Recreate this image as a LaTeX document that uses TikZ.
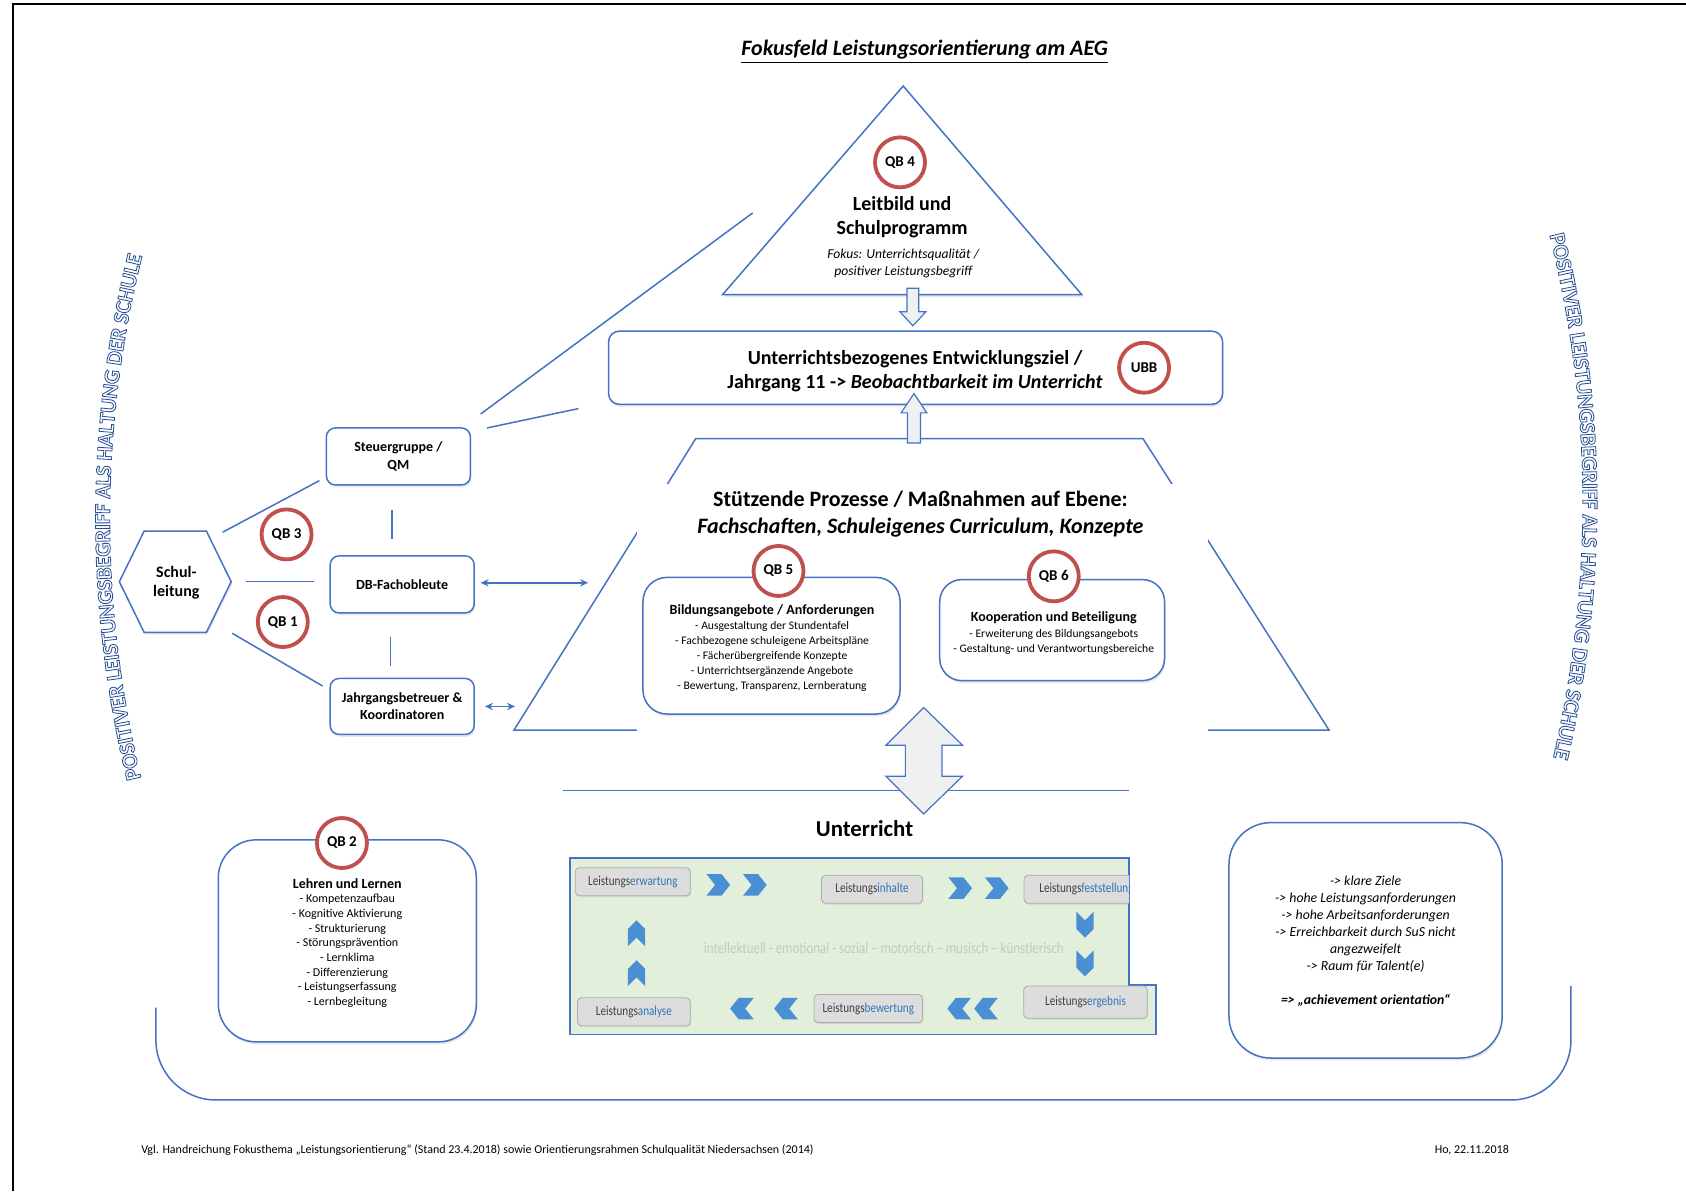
\documentclass[tikz,border=0pt]{standalone}
\usepackage{fontspec}
\usepackage{graphicx}
\setmainfont{Carlito}
\usetikzlibrary{arrows.meta,decorations.text,shadows}

\definecolor{lblue}{RGB}{68,114,196}
\definecolor{qbred}{RGB}{192,80,77}
\definecolor{chevblue}{RGB}{74,143,212}
\definecolor{panelgreen}{RGB}{226,239,218}
\definecolor{boxgray}{RGB}{221,221,221}
\definecolor{sfxblue}{RGB}{46,117,182}
\definecolor{labgray}{RGB}{64,64,64}
\definecolor{fadegray}{RGB}{196,200,196}
\definecolor{arrowfill}{RGB}{240,240,240}
\definecolor{arctext}{RGB}{40,80,150}

\newcommand{\fsz}[2]{\fontsize{#1}{#2}\selectfont}
\newcommand{\tagtext}[2]{\scalebox{0.82}[1]{\textcolor{labgray}{#1}\textcolor{sfxblue}{#2}}}
% outlined capitals for the curved slogan
\newcommand{\outlinefont}{\special{pdf:literal direct 1 Tr 0.42 w}\bfseries\fsz{11}{12}}

\begin{document}
\begin{tikzpicture}[x=0.5376pt,y=-0.5376pt,
  bl/.style={draw=lblue,line width=0.75pt},
  shad/.style={drop shadow={opacity=0.18,shadow xshift=0.5pt,shadow yshift=-1.2pt}},
  orgbox/.style={bl,shad,fill=white,rounded corners=4.5pt,align=center,inner sep=0pt,
    font=\fsz{7}{8.6}\bfseries,minimum width=72pt,minimum height=28.5pt},
  qb/.style={circle,draw=qbred,line width=1.9pt,fill=white,minimum size=25pt,inner sep=0pt,
    font=\fsz{7.5}{8}\bfseries},
  bigbox/.style={bl,shad,fill=white,inner sep=0pt},
  tagbox/.style={draw=gray!65,fill=boxgray,rounded corners=2pt,inner sep=0pt,minimum height=14pt,
    font=\fsz{6.8}{8},drop shadow={opacity=0.15,shadow xshift=0.4pt,shadow yshift=-0.8pt}},
  chevh/.pic={\fill[chevblue] (-11,-10) -- (3,-10) -- (11,0) -- (3,10) -- (-11,10) -- (-3,0) -- cycle;},
  chevv/.pic={\fill[chevblue] (-8,-12) -- (0,-4) -- (8,-12) -- (8,4) -- (0,12) -- (-8,4) -- cycle;},
  blockarrow/.style={draw=lblue,line width=0.6pt,fill=arrowfill},
  conn/.style={bl},
  dbl/.style={bl,{Stealth[length=4pt,width=3.6pt]}-{Stealth[length=4pt,width=3.6pt]}},
]
\useasboundingbox (0,0) rectangle (1568,1108);
\fill[white] (0,0) rectangle (1568,1108);

% page frame
\draw[black,line width=1pt] (12,1108) -- (12,4) -- (1568,4);

% title
\node[font=\fsz{11}{13}\bfseries\itshape] (title) at (860,48)
  {\underline{Fokusfeld Leistungsorientierung am AEG}};

% frame around the lower part
\draw[bl,rounded corners=30pt] (145,937) -- (145,1023) -- (1461,1023) -- (1461,917);

% top triangle: mission statement
\draw[bl,fill=white,shad] (840,80) -- (1006,274) -- (672,274) -- cycle;
\node[qb] (qb4) at (837,151) {QB 4};
\node[font=\fsz{10}{12.4}\bfseries,align=center] (leit) at (839,202) {Leitbild und\\Schulprogramm};
\node[font=\fsz{6.8}{8.1}\itshape,align=center] (fokus) at (840,245)
  {Fokus: Unterrichtsqualität /\\positiver Leistungsbegriff};
\draw[blockarrow] (843.5,268) -- (854.5,268) -- (854.5,290) -- (861,290) -- (849,303)
  -- (837,290) -- (843.5,290) -- cycle;

% development goal
\node[bigbox,rounded corners=5.4pt,minimum width=307pt,minimum height=36.6pt] (ubb) at (851.5,342) {};
\node[font=\fsz{10}{11.8}\bfseries,align=center] (ubbtext) at (851,345)
  {Unterrichtsbezogenes Entwicklungsziel /\\Jahrgang 11 -> \textit{Beobachtbarkeit im Unterricht}};
\node[qb] (ubbc) at (1064,342) {UBB};

% supporting processes (trapezoid)
\draw[bl] (647,408) -- (1063,408) -- (1236,679) -- (478,679) -- cycle;
\fill[white] (592,450) rectangle (1123,692);
\draw[blockarrow] (844,412) -- (856,412) -- (856,384) -- (862,384) -- (850,366) -- (838,384)
  -- (844,384) -- cycle;
\node[font=\fsz{11}{13.4}\bfseries,align=center] (stuetz) at (856,478)
  {Stützende Prozesse / Maßnahmen auf Ebene:\\\textit{Fachschaften, Schuleigenes Curriculum, Konzepte}};

\node[bigbox,rounded corners=12pt,minimum width=128.5pt,minimum height=68.3pt] (bild) at (717.5,600.5) {};
\node[align=center,font=\fsz{5.8}{7.5}] (bildtext) at (718,603)
  {{\fsz{7}{7.5}\bfseries Bildungsangebote / Anforderungen}\\
   - Ausgestaltung der Stundentafel\\
   - Fachbezogene schuleigene Arbeitspläne\\
   - Fächerübergreifende Konzepte\\
   - Unterrichtsergänzende Angebote\\
   - Bewertung, Transparenz, Lernberatung};
\node[qb] (qb5) at (724,531) {QB 5};

\node[bigbox,rounded corners=11pt,minimum width=112.4pt,minimum height=50.5pt] (koop) at (978.5,586) {};
\node[align=center,font=\fsz{5.8}{7.8}] (kooptext) at (980,589)
  {{\fsz{7}{7.8}\bfseries Kooperation und Beteiligung}\\
   - Erweiterung des Bildungsangebots\\
   - Gestaltung- und Verantwortungsbereiche};
\node[qb] (qb6) at (980,536) {QB 6};

% lesson level
\coordinate (ul1) at (524,735);
\coordinate (ul2) at (1050,735);
\draw[bl] (ul1) -- (ul2);
\draw[blockarrow] (859,658) -- (895,693) -- (876,693) -- (876,722) -- (895,722) -- (859,757)
  -- (824,722) -- (842,722) -- (842,693) -- (824,693) -- cycle;
\node[font=\fsz{11.4}{13}\bfseries] (unt) at (804,771) {Unterricht};

% performance cycle panel
\draw[lblue,line width=0.8pt,fill=panelgreen] (530,798) -- (1050,798) -- (1050,916) -- (1075,916)
  -- (1075,962) -- (530,962) -- cycle;
\node[text=fadegray,font=\fsz{7.9}{9}] (dims) at (822,882)
  {\scalebox{0.82}[1]{intellektuell - emotional - sozial – motorisch – musisch – künstlerisch}};
\node[tagbox,minimum width=57.5pt] (erw) at (588.5,820) {\tagtext{Leistungs}{erwartung}};
\node[tagbox,minimum width=50.5pt] (inh) at (811,827) {\tagtext{Leistungs}{inhalte}};
\begin{scope}
  \clip (530,798) rectangle (1050,916);
  \node[tagbox,minimum width=62.4pt,anchor=west,align=left,inner xsep=6.5pt] (fest) at (952,827)
    {\tagtext{Leistungs}{feststellung}};
\end{scope}
\node[tagbox,minimum width=61.8pt,minimum height=16.1pt] (erg) at (1009.5,932) {\tagtext{Leistungs}{ergebnis}};
\node[tagbox,minimum width=54.3pt] (bew) at (807.5,938) {\tagtext{Leistungs}{bewertung}};
\node[tagbox,minimum width=56.4pt] (ana) at (589.5,941) {\tagtext{Leistungs}{analyse}};
\pic at (668,823) {chevh};
\pic at (702,823) {chevh};
\pic at (893,826) {chevh};
\pic at (927,826) {chevh};
\pic at (1009,860) {chevv};
\pic at (1009,896) {chevv};
\pic[xscale=-1] at (892,938) {chevh};
\pic[xscale=-1] at (917,938) {chevh};
\pic[xscale=-1] at (690,938) {chevh};
\pic[xscale=-1] at (731,938) {chevh};
\pic[yscale=-1] at (592,905) {chevv};
\pic[yscale=-1] at (592,868) {chevv};

% teaching and learning
\node[bigbox,rounded corners=19pt,minimum width=129pt,minimum height=101pt] (lehr) at (323,875) {};
\node[align=center,font=\fsz{6}{7.33}] (lehrtext) at (323,877)
  {{\fsz{7}{7.33}\bfseries Lehren und Lernen}\\
   - Kompetenzaufbau\\- Kognitive Aktivierung\\- Strukturierung\\- Störungsprävention\\
   - Lernklima\\- Differenzierung\\- Leistungserfassung\\- Lernbegleitung};
\node[qb] (qb2) at (318,784) {QB 2};

% achievement orientation
\node[bigbox,rounded corners=21pt,minimum width=136.6pt,minimum height=117.7pt] (ach) at (1270,874.5) {};
\node[align=center,font=\fsz{6.9}{8.5}\itshape] (achtext) at (1270,875)
  {-> klare Ziele\\-> hohe Leistungsanforderungen\\-> hohe Arbeitsanforderungen\\
   -> Erreichbarkeit durch SuS nicht\\angezweifelt\\-> Raum für Talent(e)\\[8.5pt]
   \textbf{=> „achievement orientation“}};

% school management and committees
\draw[bl,fill=white,shad] (111,541) -- (134,494) -- (192,494) -- (215,541) -- (192,588) -- (134,588) -- cycle;
\node[font=\fsz{8}{9.7}\bfseries,align=center] (sl) at (164,542) {Schul-\\leitung};
\node[orgbox] (steuer) at (370.5,424.5) {Steuergruppe /\\QM};
\node[orgbox] (db) at (374,543.5) {DB-Fachobleute};
\node[orgbox,minimum height=28pt] (jg) at (374,657) {Jahrgangsbetreuer \&\\Koordinatoren};
\node[qb] (qb3) at (266.5,497) {QB 3};
\node[qb] (qb1) at (263,578.5) {QB 1};

\coordinate (c1a) at (207,495);  \coordinate (c1b) at (297,447);
\coordinate (c2a) at (229,541);  \coordinate (c2b) at (292,541);
\coordinate (c3a) at (216,589);  \coordinate (c3b) at (300,638);
\coordinate (v1a) at (364.5,474); \coordinate (v1b) at (364.5,501);
\coordinate (v2a) at (363.3,592); \coordinate (v2b) at (363.3,619);
\coordinate (s1a) at (447,385);  \coordinate (s1b) at (700,198);
\coordinate (s2a) at (453,398);  \coordinate (s2b) at (538,380);
\coordinate (a1a) at (447,542);  \coordinate (a1b) at (547,542);
\coordinate (a2a) at (451,657);  \coordinate (a2b) at (479,657);
\draw[conn] (c1a) -- (c1b);
\draw[conn] (c2a) -- (c2b);
\draw[conn] (c3a) -- (c3b);
\draw[conn] (v1a) -- (v1b);
\draw[conn] (v2a) -- (v2b);
\draw[conn] (s1a) -- (s1b);
\draw[conn] (s2a) -- (s2b);
\draw[dbl] (a1a) -- (a1b);
\draw[dbl] (a2a) -- (a2b);

% footer
\node[anchor=west,inner sep=0pt,font=\fsz{6}{7}] (src) at (131,1070)
  {Vgl. Handreichung Fokusthema „Leistungsorientierung“ (Stand 23.4.2018) sowie Orientierungsrahmen Schulqualität Niedersachsen (2014)};
\node[anchor=west,inner sep=0pt,font=\fsz{6}{7}] (date) at (1334,1070) {Ho, 22.11.2018};

% curved slogan on both sides (outlined letters), kept last in its own scope
\begin{scope}
\path[decorate,decoration={text along path,text align=center,text color=arctext,
  text={|\outlinefont|POSITIVER LEISTUNGSBEGRIFF ALS HALTUNG DER SCHULE}}]
  (135,739) .. controls (91,567) and (91,395) .. (136,223);
\end{scope}
\begin{scope}
\path[decorate,decoration={text along path,text align=center,text color=arctext,
  text={|\outlinefont|POSITIVER LEISTUNGSBEGRIFF ALS HALTUNG DER SCHULE}}]
  (1437,203) .. controls (1483,375) and (1483,548) .. (1441,720);
\end{scope}
\end{tikzpicture}
\end{document}
